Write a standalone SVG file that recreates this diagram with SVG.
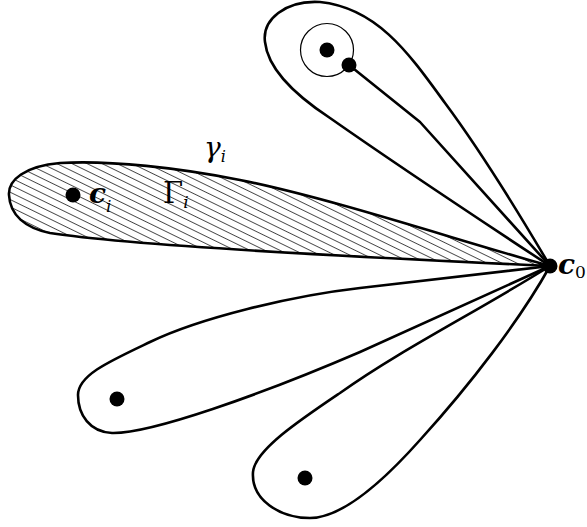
<svg xmlns="http://www.w3.org/2000/svg" width="587" height="527" viewBox="0 0 587 527">
<style>
.loop{fill:none;stroke:#000;stroke-width:2.6;stroke-linejoin:round}
.dot{fill:#000}
.lbl{font-family:"DejaVu Serif","Liberation Serif",serif;fill:#000}
.bi{font-weight:bold;font-style:italic}
.it{font-style:italic}
</style>
<defs>
<pattern id="hatch" patternUnits="userSpaceOnUse" width="8" height="6.6" patternTransform="rotate(26)">
<line x1="0" y1="3.3" x2="8" y2="3.3" stroke="#000" stroke-width="0.7"/>
</pattern>
</defs>
<g id="connectors">
<path id="loop-top" class="loop" d="M550,266 C520,215 480,150 445,103 C410,55 378,8 320,2 C285,0 262,20 265,42 C268,70 295,95 330,118 C390,160 480,220 550,266 Z"/>
<path id="loop-shaded" class="loop" style="fill:url(#hatch)" d="M550,266 C450,238 330,198 240,180 C180,168 110,160 60,163 C25,166 8,180 9,195 C10,215 25,228 50,233 C120,244 330,256 550,266 Z"/>
<path id="loop-mid" class="loop" d="M550,266 L360,288 C290,296 200,318 150,342 C110,361 78,375 78,395 C78,415 90,432 112,433 C150,434 260,395 360,352 L550,266 Z"/>
<path id="loop-bottom" class="loop" d="M550,266 C480,310 400,350 340,393 C300,420 255,450 253,472 C251,500 280,518 310,518 C340,518 380,485 420,440 C470,385 520,320 550,266 Z"/>
<path id="path-inner" class="loop" d="M349,65 L420,122 L550,266"/>
</g>
<g id="node-inner-circle">
<circle cx="327" cy="50" r="26.5" fill="none" stroke="#000" stroke-width="1.2"/>
<circle class="dot" cx="327" cy="50" r="7.5"/>
</g>
<g id="node-inner-point">
<circle class="dot" cx="349" cy="65" r="7.5"/>
</g>
<g id="node-mid">
<circle class="dot" cx="117" cy="399" r="7.5"/>
</g>
<g id="node-bottom">
<circle class="dot" cx="305" cy="478" r="7.5"/>
</g>
<g id="node-c0">
<circle class="dot" cx="550" cy="266" r="7.5"/>
<text class="lbl" x="558" y="274" font-size="28"><tspan class="bi">c</tspan><tspan font-size="17" dy="4">0</tspan></text>
</g>
<g id="node-ci">
<circle class="dot" cx="73" cy="195" r="7.5"/>
<text class="lbl" x="89" y="203" font-size="28"><tspan class="bi">c</tspan><tspan class="it" font-size="17" dy="9">i</tspan></text>
</g>
<g id="label-Gamma">
<text class="lbl" x="163" y="203" font-size="29">Γ<tspan class="it" font-size="17" dy="5">i</tspan></text>
</g>
<g id="label-gamma">
<text class="lbl it" x="204" y="157" font-size="28">γ<tspan font-size="16" dy="5">i</tspan></text>
</g>
</svg>
